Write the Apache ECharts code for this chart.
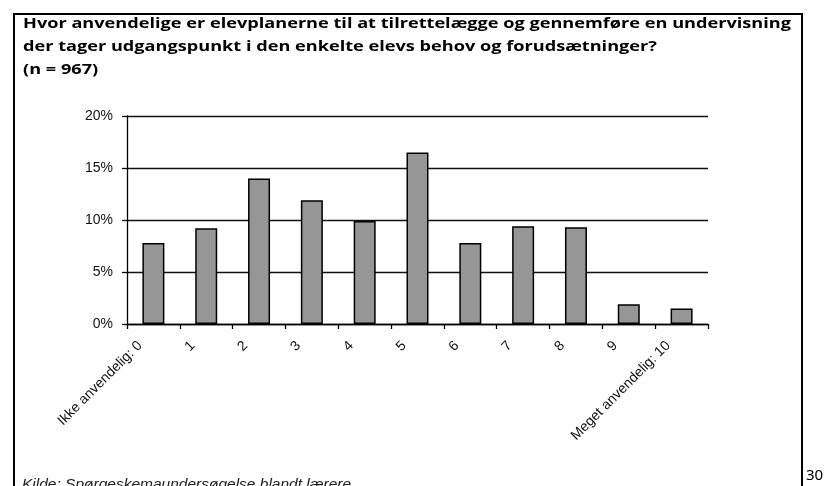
<!DOCTYPE html>
<html>
<head>
<meta charset="utf-8">
<script src="https://cdn.jsdelivr.net/npm/echarts@6/dist/echarts.min.js"></script>
<style>html,body{margin:0;padding:0;background:#fff}#c{width:825px;height:486px}</style>
</head>
<body>
<div id="c"></div>
<script>
const titleLines = [
  "Hvor anvendelige er elevplanerne til at tilrettelægge og gennemføre en undervisning",
  "der tager udgangspunkt i den enkelte elevs behov og forudsætninger?",
  "(n = 967)"
];
const categories = ["Ikke anvendelig: 0","1","2","3","4","5","6","7","8","9","Meget anvendelig: 10"];
const values = [7.8, 9.2, 14.0, 11.9, 9.9, 16.5, 7.8, 9.4, 9.3, 1.9, 1.5];
const yTicks = [0, 5, 10, 15, 20];
const sourceText = "Kilde: Spørgeskemaundersøgelse blandt lærere";
const pageNumber = "30";

const titleGraphics = titleLines.map((t, i) => ({
  type: 'text', x: 23, y: 24 + i * 23, scaleX: 1.21,
  style: {text: t, font: 'bold 15px "Open Sans"', fill: '#000', textVerticalAlign: 'middle'}
}));

const chart = echarts.init(document.getElementById('c'));
chart.setOption({
  animation: false,
  backgroundColor: '#fff',
  grid: {left: 127, top: 116, width: 581, height: 208},
  xAxis: {
    type: 'category',
    data: categories,
    axisLine: {lineStyle: {color: '#000', width: 1.3}},
    axisTick: {show: true, length: 5, lineStyle: {color: '#000', width: 1.3}},
    axisLabel: {
      interval: 0, rotate: 45, margin: 6,
      padding: [0, 19, 0, 0],
      fontFamily: 'Liberation Sans', fontSize: 14, color: '#111'
    }
  },
  yAxis: {
    type: 'value', min: 0, max: 20, interval: 5,
    axisLine: {show: true, lineStyle: {color: '#000', width: 1.3}},
    axisTick: {show: true, length: 5, lineStyle: {color: '#000', width: 1.3}},
    splitLine: {show: true, lineStyle: {color: '#111', width: 1.3}},
    axisLabel: {
      margin: 14, fontFamily: 'Liberation Sans', fontSize: 14, color: '#111',
      formatter: v => (yTicks.indexOf(v) >= 0 ? v + '%' : '')
    }
  },
  series: [{
    type: 'bar',
    data: values,
    barWidth: 22,
    itemStyle: {color: '#969696', borderColor: '#000', borderWidth: 1.5}
  }],
  graphic: titleGraphics.concat([
    {type: 'rect', shape: {x: 14, y: 14, width: 788, height: 520}, style: {fill: 'none', stroke: '#000', lineWidth: 2}, z: 100},
    {type: 'text', x: 22, y: 477, style: {text: sourceText, font: 'italic 15.5px "Liberation Sans"', fill: '#222'}},
    {type: 'text', x: 806, y: 468, style: {text: pageNumber, font: '15px "Noto Sans"', fill: '#000'}}
  ])
});
</script>
</body>
</html>
